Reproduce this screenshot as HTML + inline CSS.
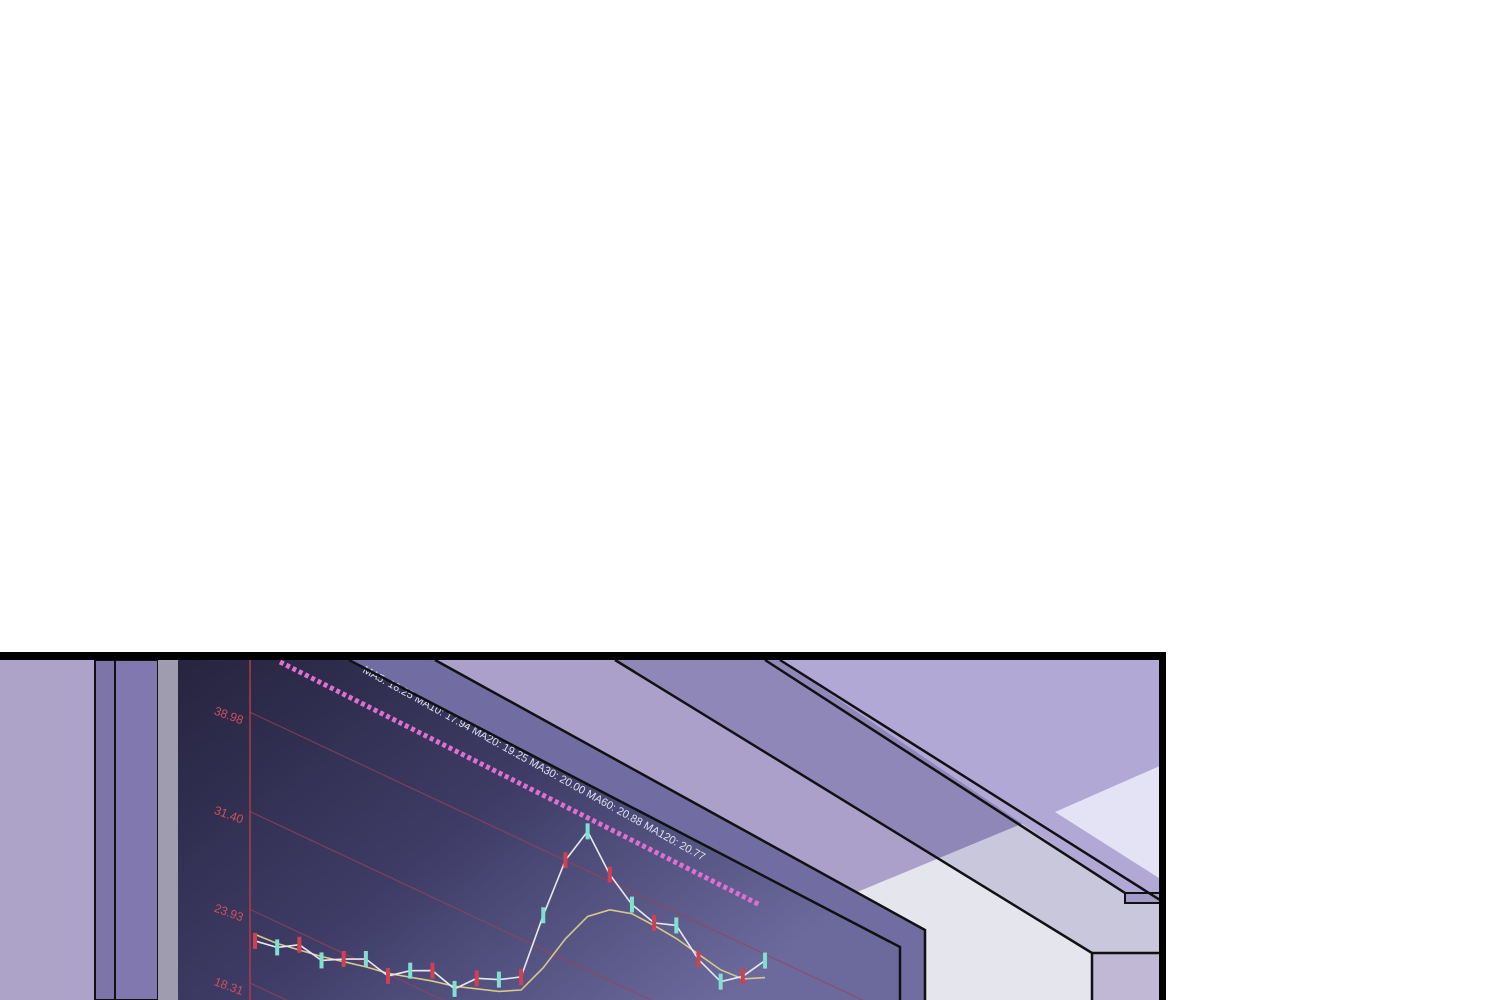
<!DOCTYPE html>
<html><head><meta charset="utf-8"><style>
html,body{margin:0;padding:0;background:#fff;width:1500px;height:1000px;overflow:hidden}
svg{display:block}
text{font-family:"Liberation Sans",sans-serif}
</style></head><body>
<svg id="scene" width="1500" height="1000" viewBox="0 0 1500 1000">
<defs>
<linearGradient id="scr" x1="0" y1="0" x2="1" y2="0.6"><stop offset="0" stop-color="#26243e"/><stop offset="0.5" stop-color="#3e3c66"/><stop offset="1" stop-color="#6c6a9c"/></linearGradient>
<clipPath id="band1"><polygon points="435,660 615,660 1092,953 1092,1000 925,1000 925,930"/></clipPath>
<clipPath id="band2"><polygon points="615,660 780,660 1125,893 1125,903 1162,903 1162,953 1092,953"/></clipPath>
</defs>
<rect x="0" y="0" width="1500" height="1000" fill="#fff"/>
<g>
<rect x="0" y="655" width="1162" height="345" fill="#aca2c9"/>
<polygon points="780,660 1162,660 1162,893 1125,893" fill="#b1a8d6"/>
<polygon points="1055,812 1162,765 1162,880" fill="#e4e3f5"/>
<polygon points="435,660 615,660 1092,953 1092,1000 925,1000 925,930" fill="#aaa0c9"/>
<polygon clip-path="url(#band1)" points="850,895 1050,812 1200,812 1200,1000 850,1000" fill="#e5e5ee"/>
<polygon points="615,660 780,660 1125,893 1125,903 1162,903 1162,953 1092,953" fill="#8f87b8"/>
<polygon clip-path="url(#band2)" points="850,895 1050,812 1200,812 1200,1000 850,1000" fill="#c9c7dc"/>
<rect x="1092" y="953" width="70" height="47" fill="#c1b8d6"/>
<polygon points="1125,893 1162,893 1162,903 1125,903" fill="#a39bc9" stroke="#111" stroke-width="2"/>
</g>
<rect x="0" y="660" width="95" height="340" fill="#ada3c9"/>
<rect x="95" y="660" width="20" height="340" fill="#7d74aa" stroke="#111" stroke-width="2"/>
<rect x="115" y="660" width="43" height="340" fill="#8078ae" stroke="#111" stroke-width="2"/>
<rect x="158" y="660" width="20" height="340" fill="#a09cb0"/>
<polygon points="349,660 435,660 925,930 925,1000 900,1000 900,947" fill="#716ca2"/>
<polygon points="178,660 349,660 900,947 900,1000 178,1000" fill="url(#scr)"/>
<g id="chart"></g>
<g fill="none" stroke="#111" stroke-width="2.5">
<polyline points="349,660 900,947 900,1000"/>
<polyline points="435,660 925,930 925,1000"/>
<polyline points="615,660 1092,953 1092,1000"/>
<line x1="1092" y1="953" x2="1162" y2="953"/>
<polyline points="765,660 1125,893"/>
<polyline points="780,660 1160,900"/>
</g>
<g>
<rect x="0" y="652" width="1166" height="8" fill="#000"/>
<rect x="1159" y="652" width="7" height="348" fill="#000"/>
</g>
</svg>
<script>
const tickLabels=["38.98","31.40","23.93","18.31"];
const tickValues=[38.98,31.40,23.93,18.31];
const closes=[21.7,22,23,22.6,23.5,24.3,23.8,25,25.8,25.2,26.8,27.5,28.5,34,39,42,39.5,38,37.4,38,36.2,35.3,36.5,38.5];
const ma=[22.2,22.3,22.6,22.9,23.3,23.7,24,24.5,25,25.4,26,26.6,27.5,30,33,35.5,36.8,37.3,37.2,37,36.6,36.2,36.3,37.2];
const NS="http://www.w3.org/2000/svg";
const chart=document.getElementById('chart');
const x0=255,x1=765;
function xS(i,n){return x0+(x1-x0)*i/(n-1);}
function yS(p,x){return 983-(p-18.31)*13.1+0.47*(x-250);}
const ax=document.createElementNS(NS,'line');


ax.setAttribute('x1',250);ax.setAttribute('y1',660);ax.setAttribute('x2',250);ax.setAttribute('y2',1000);
ax.setAttribute('stroke','#b03a48');ax.setAttribute('stroke-width','1.5');
chart.appendChild(ax);
tickValues.forEach((v,i)=>{
 const g=document.createElementNS(NS,'line');
 
 
 g.setAttribute('x1',250);g.setAttribute('y1',yS(v,250));g.setAttribute('x2',900);g.setAttribute('y2',yS(v,900));
 g.setAttribute('stroke','#9a4258');g.setAttribute('stroke-width','1.2');g.setAttribute('opacity','0.7');
 chart.appendChild(g);
 const t=document.createElementNS(NS,'text');
 
 
 t.setAttribute('x',214);t.setAttribute('y',yS(v,250)+2);
 t.setAttribute('fill','#d0505a');t.setAttribute('font-size','12');
 t.setAttribute('transform','rotate(20 214 '+yS(v,250)+')');
 t.textContent=tickLabels[i];
 chart.appendChild(t);
});
function line(arr,color,name){
 const p=document.createElementNS(NS,'polyline');
 
 
 p.setAttribute('points',arr.map((v,i)=>{const x=xS(i,arr.length);return x+','+yS(v,x);}).join(' '));
 p.setAttribute('fill','none');p.setAttribute('stroke',color);p.setAttribute('stroke-width','1.6');
 chart.appendChild(p);
}
line(ma,'#d8c88a','ma-line');
line(closes,'#e8e8f0','price-line');
closes.forEach((v,i)=>{
 const x=xS(i,closes.length);
 const r=document.createElementNS(NS,'rect');
 
 
 r.setAttribute('x',x-2);r.setAttribute('y',yS(v,x)-8);r.setAttribute('width',4);r.setAttribute('height',16);
 r.setAttribute('fill',i%2?'#7fe0d0':'#d04050');
 chart.appendChild(r);
});
const lbl=document.createElementNS(NS,'text');


lbl.setAttribute('x',362);lbl.setAttribute('y',672);
lbl.setAttribute('fill','#e0e0f0');lbl.setAttribute('font-size','11');
lbl.setAttribute('transform','rotate(29 362 672)');
lbl.textContent='MA5: 18.25 MA10: 17.94 MA20: 19.25 MA30: 20.00 MA60: 20.88 MA120: 20.77';
chart.appendChild(lbl);
const dots=document.createElementNS(NS,'line');


dots.setAttribute('x1',280);dots.setAttribute('y1',662);dots.setAttribute('x2',760);dots.setAttribute('y2',905);
dots.setAttribute('stroke','#e070d0');dots.setAttribute('stroke-width','5');dots.setAttribute('stroke-dasharray','4 3');
chart.appendChild(dots);
</script>
</body></html>
